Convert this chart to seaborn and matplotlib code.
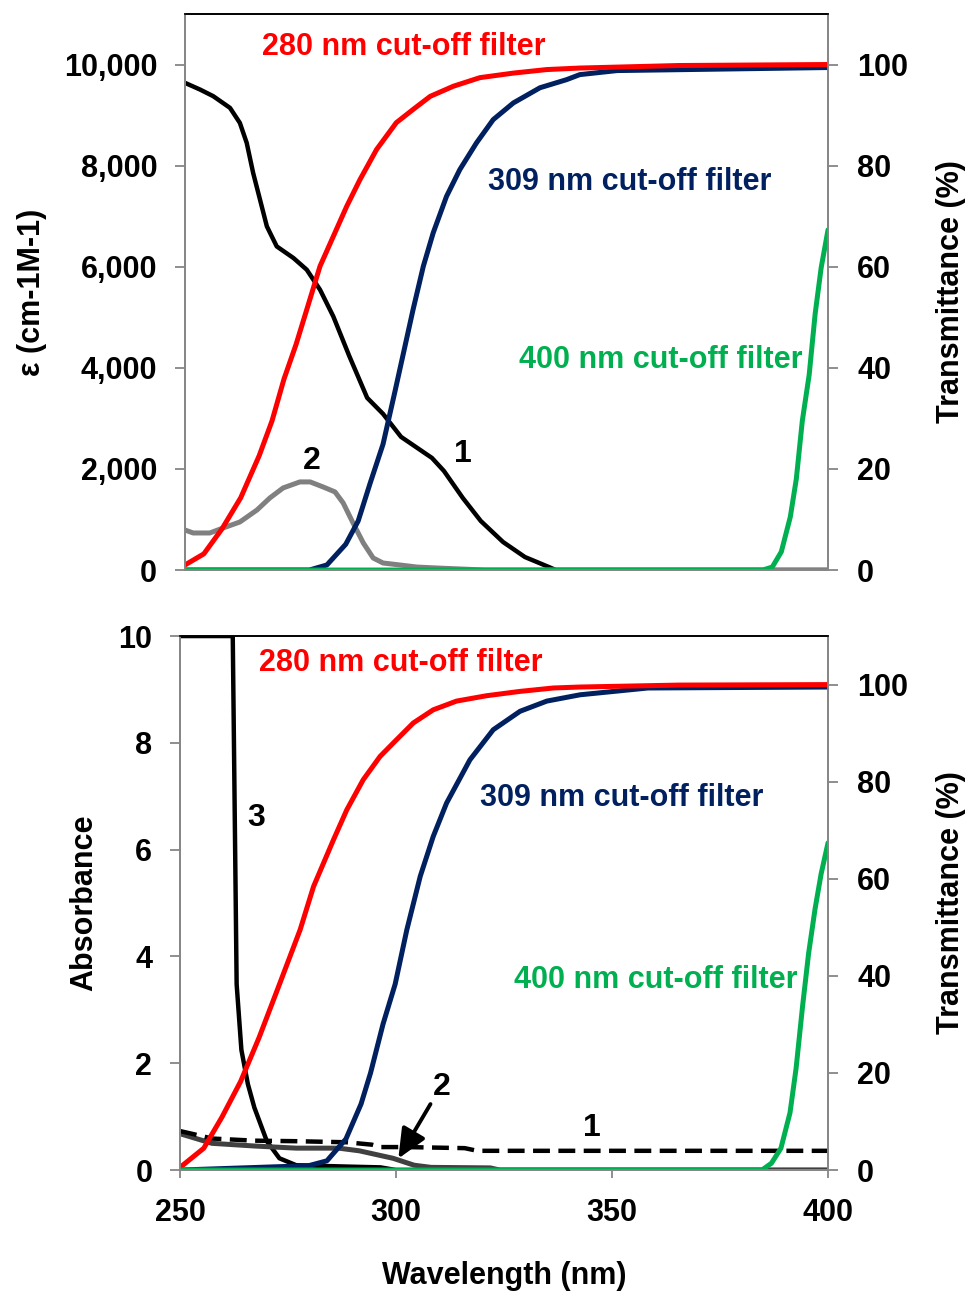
import matplotlib
matplotlib.use("Agg")
import matplotlib.pyplot as plt
import seaborn as sns
import pandas as pd
from matplotlib.ticker import FuncFormatter, FixedLocator

# ---------------- data ----------------
# Top panel: molar absorptivity (left axis, cm-1 M-1)
top_c1_wl = [250, 253.5, 256.6, 260.5, 262.8, 264.4, 265.9, 267.5, 269.1, 271.4, 275.3,
             278.4, 281.5, 284.6, 288.3, 292.5, 296.2, 300.4, 307.6, 310.4, 314.8, 319,
             324.2, 329.3, 334.9, 336.5, 400]
top_c1_eps = [9637, 9505, 9373, 9142, 8845, 8449, 7855, 7327, 6798, 6402, 6172, 5941,
              5545, 5016, 4238, 3406, 3089, 2634, 2218, 1960, 1426, 970, 554, 257, 59, 0, 0]

top_c2_wl = [250, 251.9, 255.8, 258.9, 262.8, 266.8, 269.8, 272.9, 276.8, 279.2, 282.2,
             285, 286.9, 289.2, 291.6, 293.9, 296.2, 300.2, 304.1, 308.8, 320, 400]
top_c2_eps = [792, 733, 733, 832, 950, 1188, 1426, 1624, 1743, 1743, 1644, 1545, 1327,
              931, 535, 238, 139, 99, 59, 40, 0, 0]

# Filter transmittance (%), top panel
top_red_wl = [250, 254.4, 258.6, 263, 267.3, 270.3, 273.1, 275.9, 278.4, 281.5, 284.6,
              287.7, 290.8, 294.7, 299.3, 303.2, 307.2, 312.6, 318.8, 326.6, 334.4, 342.1,
              365.2, 400]
top_red_t = [1.0, 3.2, 8.1, 14.3, 22.6, 29.5, 37.8, 44.6, 51.5, 60.1, 66.0, 71.9, 77.2,
             83.2, 88.5, 91.1, 93.7, 95.7, 97.4, 98.3, 99.0, 99.3, 99.8, 100]

top_navy_wl = [250, 279, 283.1, 287.5, 290.4, 293.2, 296.2, 299, 303.2, 305.6, 307.9,
               311, 314.1, 318, 321.9, 326.6, 332.8, 339, 342.1, 350.8, 400]
top_navy_t = [0, 0, 1.0, 5.1, 9.7, 17.2, 24.9, 35.4, 51.5, 60.1, 66.7, 73.9, 79.2, 84.5,
              89.1, 92.4, 95.4, 97.0, 98.0, 98.8, 99.4]

top_green_wl = [250, 384.8, 387, 389.1, 391.2, 392.6, 394, 395.6, 397, 398.4, 400]
top_green_t = [0, 0, 0.6, 3.6, 10.5, 18.0, 29.5, 38.6, 50.7, 59.8, 67.3]

# Bottom panel: absorbance (left axis)
bot_c1_wl = [250, 253.5, 257.4, 267.2, 276.9, 288.6, 294.4, 296.4, 302.3, 315.9, 318.8,
             321.8, 400]
bot_c1_a = [0.73, 0.665, 0.59, 0.55, 0.54, 0.52, 0.475, 0.43, 0.43, 0.41, 0.36, 0.36, 0.36]

bot_c2_wl = [250, 257.4, 267.2, 276.9, 286.7, 291.5, 299.3, 304.2, 308.1, 321.8, 324, 400]
bot_c2_a = [0.68, 0.5, 0.45, 0.41, 0.41, 0.36, 0.22, 0.09, 0.05, 0.04, 0, 0]

bot_c3_wl = [250, 262.2, 263.1, 264.2, 265.7, 267.2, 270.1, 273, 276.9, 288.6, 296.4,
             300, 400]
bot_c3_a = [10, 10, 3.48, 2.25, 1.61, 1.17, 0.54, 0.22, 0.09, 0.065, 0.05, 0, 0]

# Filter transmittance (%), bottom panel
bot_red_wl = [250, 250.5, 255.5, 259.7, 264, 268.3, 272.6, 277.8, 280.9, 285.5, 288.6,
              292.4, 296.3, 299.4, 304, 308.6, 314, 320.9, 328.7, 336.4, 342.6, 365.5, 400]
bot_red_t = [0.5, 0.9, 4.5, 10.9, 18.2, 27.3, 37.3, 49.5, 58.4, 68.0, 74.2, 80.4, 85.2,
             88.0, 92.1, 94.8, 96.6, 97.7, 98.6, 99.3, 99.5, 99.9, 100]

bot_navy_wl = [250, 279.8, 284, 288.4, 291.9, 294.1, 297, 299.8, 302.5, 305.6, 308.6,
               311.7, 317.1, 322.5, 328.7, 334.9, 342.6, 358.3, 400]
bot_navy_t = [0, 0.9, 1.9, 6.4, 13.6, 20.0, 30.1, 38.3, 49.5, 60.5, 68.7, 75.6, 84.5,
              90.7, 94.5, 96.6, 97.9, 99.3, 99.5]

bot_green_wl = [250, 384.7, 386.9, 389.1, 391.2, 392.6, 394.1, 395.5, 397, 398.4, 400]
bot_green_t = [0, 0, 1.4, 4.5, 11.8, 20.9, 33.7, 44.6, 53.8, 61.0, 67.4]

x_ticks = [250, 300, 350, 400]
eps_ticks = [0, 2000, 4000, 6000, 8000, 10000]
abs_ticks = [0, 2, 4, 6, 8, 10]
t_ticks = [0, 20, 40, 60, 80, 100]

# ---------------- style ----------------
sns.set_style("ticks")
plt.rcParams["font.family"] = ["Liberation Sans", "DejaVu Sans"]
plt.rcParams["font.weight"] = "bold"
plt.rcParams["axes.labelweight"] = "bold"
plt.rcParams["text.color"] = "black"
plt.rcParams["axes.labelcolor"] = "black"
plt.rcParams["lines.solid_joinstyle"] = "round"
plt.rcParams["lines.solid_capstyle"] = "round"

RED = "#FF0000"
NAVY = "#002060"
GREEN = "#00B050"
GRAY = "#808080"
DGRAY = "#404040"
SPINE = "#868686"
LW = 3.6
LWK = 3.2
FS = 22

fig = plt.figure(figsize=(9.68, 12.92), dpi=100)
ax1 = fig.add_axes([0.1911, 0.5588, 0.8554 - 0.1911, 0.9892 - 0.5588])
ax2 = fig.add_axes([0.1860, 0.0944, 0.8554 - 0.1860, 0.5077 - 0.0944])
tw1 = ax1.twinx()
tw2 = ax2.twinx()


def line(ax, x, y, color, lw=LW, **kw):
    df = pd.DataFrame({"x": x, "y": y})
    sns.lineplot(data=df, x="x", y="y", ax=ax, color=color, lw=lw, estimator=None,
                 sort=False, legend=False, **kw)


# top panel
line(ax1, top_c1_wl, top_c1_eps, "black", lw=LWK)
line(ax1, top_c2_wl, top_c2_eps, GRAY)
line(tw1, top_navy_wl, top_navy_t, NAVY)
line(tw1, top_red_wl, top_red_t, RED)
line(tw1, top_green_wl, top_green_t, GREEN)

# bottom panel
line(ax2, bot_c3_wl, bot_c3_a, "black", lw=LWK)
line(ax2, bot_c2_wl, bot_c2_a, DGRAY)
line(ax2, bot_c1_wl, bot_c1_a, "black", lw=LWK)
ax2.lines[-1].set_dashes((3.8, 1.9))
line(tw2, bot_navy_wl, bot_navy_t, NAVY)
line(tw2, bot_red_wl, bot_red_t, RED)
line(tw2, bot_green_wl, bot_green_t, GREEN)

# axes limits / ticks
for ax in (ax1, ax2):
    ax.set_xlim(250, 400)
ax1.set_ylim(0, 11000)
ax2.set_ylim(0, 10)
tw1.set_ylim(0, 110)
tw2.set_ylim(0, 110)

ax1.yaxis.set_major_locator(FixedLocator(eps_ticks))
ax1.yaxis.set_major_formatter(FuncFormatter(lambda v, p: f"{int(v):,}"))
ax2.yaxis.set_major_locator(FixedLocator(abs_ticks))
for tw in (tw1, tw2):
    tw.yaxis.set_major_locator(FixedLocator(t_ticks))
ax2.xaxis.set_major_locator(FixedLocator(x_ticks))

for ax in (ax1, ax2, tw1, tw2):
    ax.set_xlabel("")
    ax.set_ylabel("")
    for s in ("left", "right", "bottom"):
        ax.spines[s].set_color(SPINE)
        ax.spines[s].set_linewidth(1.3)
        ax.spines[s].set_visible(True)
    ax.spines["top"].set_color("black")
    ax.spines["top"].set_linewidth(1.2)
    ax.spines["top"].set_visible(True)
    ax.tick_params(colors=SPINE, labelcolor="black", labelsize=FS, width=1.3)

ax1.tick_params(axis="y", length=7, pad=13)
ax2.tick_params(axis="y", length=7, pad=13)
tw1.tick_params(axis="y", length=7, pad=14)
tw2.tick_params(axis="y", length=7, pad=14)
ax1.tick_params(axis="x", length=0, labelbottom=False)
ax2.tick_params(axis="x", length=6, pad=14)

ax1.set_ylabel("ε (cm-1M-1)", fontsize=FS, fontweight="bold", labelpad=12)
ax2.set_ylabel("Absorbance", fontsize=FS, fontweight="bold", labelpad=14)
tw1.set_ylabel("Transmittance (%)", fontsize=FS, fontweight="bold", labelpad=20)
tw2.set_ylabel("Transmittance (%)", fontsize=FS, fontweight="bold", labelpad=20)
ax2.set_xlabel("Wavelength (nm)", fontsize=FS, fontweight="bold", labelpad=24)

# annotations
kw = dict(fontsize=FS, fontweight="bold", va="center", ha="left")
tw1.text(268, 103.5, "280 nm cut-off filter", color=RED, **kw)
tw1.text(320.7, 76.8, "309 nm cut-off filter", color=NAVY, **kw)
tw1.text(327.9, 41.6, "400 nm cut-off filter", color=GREEN, **kw)
nk = dict(fontsize=FS + 1, fontweight="bold", ha="center", va="center", color="black")
ax1.text(279.6, 2150, "2", **nk)
ax1.text(314.8, 2300, "1", **nk)

tw2.text(268.3, 104.5, "280 nm cut-off filter", color=RED, **kw)
tw2.text(319.4, 76.7, "309 nm cut-off filter", color=NAVY, **kw)
tw2.text(327.3, 39.2, "400 nm cut-off filter", color=GREEN, **kw)
ax2.text(267.6, 6.59, "3", **nk)
ax2.text(310.6, 1.55, "2", **nk)
ax2.text(345.4, 0.79, "1", **nk)
ax2.annotate("", xy=(300.2, 0.17), xytext=(308.3, 1.28),
             arrowprops=dict(arrowstyle="-|>,head_length=0.9,head_width=0.4",
                             color="black", lw=2.8, mutation_scale=20))

fig.savefig("out.png", dpi=100)
